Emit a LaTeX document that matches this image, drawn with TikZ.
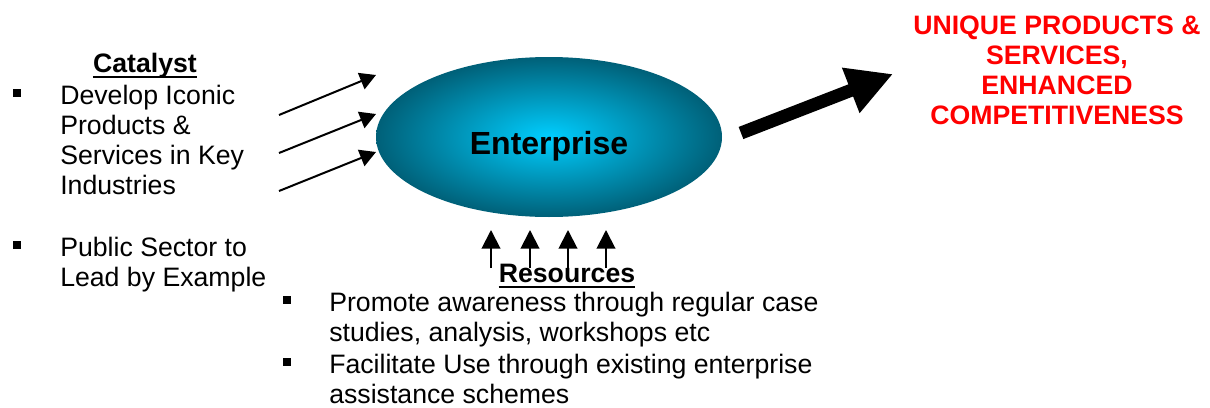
\documentclass[tikz,border=0pt]{standalone}
\usepackage{fontspec}
\setmainfont{Liberation Sans}
\usetikzlibrary{arrows.meta,shapes.geometric}
\definecolor{entin}{RGB}{0,206,255}
\definecolor{entout}{RGB}{0,96,120}
\definecolor{outred}{RGB}{255,0,0}

\begin{document}
\begin{tikzpicture}[x=0.75pt,y=-0.75pt,
  body/.style={font=\fontsize{20}{22.5}\selectfont, align=left, anchor=north west, inner sep=0pt},
  heading/.style={font=\fontsize{20}{22.5}\selectfont\bfseries, anchor=base, inner sep=0pt},
  rule/.style={line width=1.5pt},
  bullet/.style={fill=black, minimum size=6pt, inner sep=0pt},
  feed/.style={line width=1.5pt, -{Triangle[length=12pt,width=13pt]}},
  lift/.style={line width=1.5pt, -{Triangle[length=14pt,width=14pt]}},
  outcome/.style={line width=9.75pt, -{Triangle[length=34pt,width=34pt]}}
]
\useasboundingbox (0,0) rectangle (1210,407);

% central enterprise
\node[ellipse, minimum width=259.5pt, minimum height=120pt, inner sep=0pt,
      inner color=entin, outer color=entout] (ent) at (549,137) {};
\node[font=\fontsize{24}{28}\selectfont\bfseries, anchor=base, inner sep=0pt]
  (entlabel) at (549,154) {Enterprise};

% catalyst block
\node[heading] (cat) at (145,72) {Catalyst};
\draw[rule] ([yshift=-3.5pt]cat.base west) -- ([yshift=-3.5pt]cat.base east);
\node[bullet] (cb1) at (17,93) {};
\node[body] (ci1) at (60,85) {Develop Iconic\\Products \&\\Services in Key\\Industries};
\node[bullet] (cb2) at (17,245) {};
\node[body] (ci2) at (60,237) {Public Sector to\\Lead by Example};

% catalyst arrows
\coordinate (f1s) at (279,115); \coordinate (f1e) at (376,75);
\coordinate (f2s) at (279,153); \coordinate (f2e) at (376,114);
\coordinate (f3s) at (279,191); \coordinate (f3e) at (376,152);
\draw[feed] (f1s) -- (f1e);
\draw[feed] (f2s) -- (f2e);
\draw[feed] (f3s) -- (f3e);

% resources block
\node[heading] (res) at (567,282) {Resources};
\draw[rule] ([yshift=-3.5pt]res.base west) -- ([yshift=-3.5pt]res.base east);
\node[bullet] (rb1) at (287,300) {};
\node[body] (ri1) at (329,292) {Promote awareness through regular case\\studies, analysis, workshops etc};
\node[bullet] (rb2) at (287,362) {};
\node[body] (ri2) at (329,354) {Facilitate Use through existing enterprise\\assistance schemes};

% resource arrows
\foreach \i/\x in {1/491,2/530,3/568,4/606}{
  \coordinate (u\i s) at (\x,268);
  \coordinate (u\i e) at (\x,230);
  \draw[lift] (u\i s) -- (u\i e);
}

% outcome
\coordinate (os) at (741,133);
\coordinate (oe) at (893,74);
\draw[outcome] (os) -- (oe);
\node[font=\fontsize{20}{22.5}\selectfont\bfseries, text=outred, align=center,
      anchor=north, inner sep=0pt] (out) at (1057,16)
  {UNIQUE PRODUCTS \&\\SERVICES,\\ENHANCED\\COMPETITIVENESS};
\end{tikzpicture}
\end{document}
